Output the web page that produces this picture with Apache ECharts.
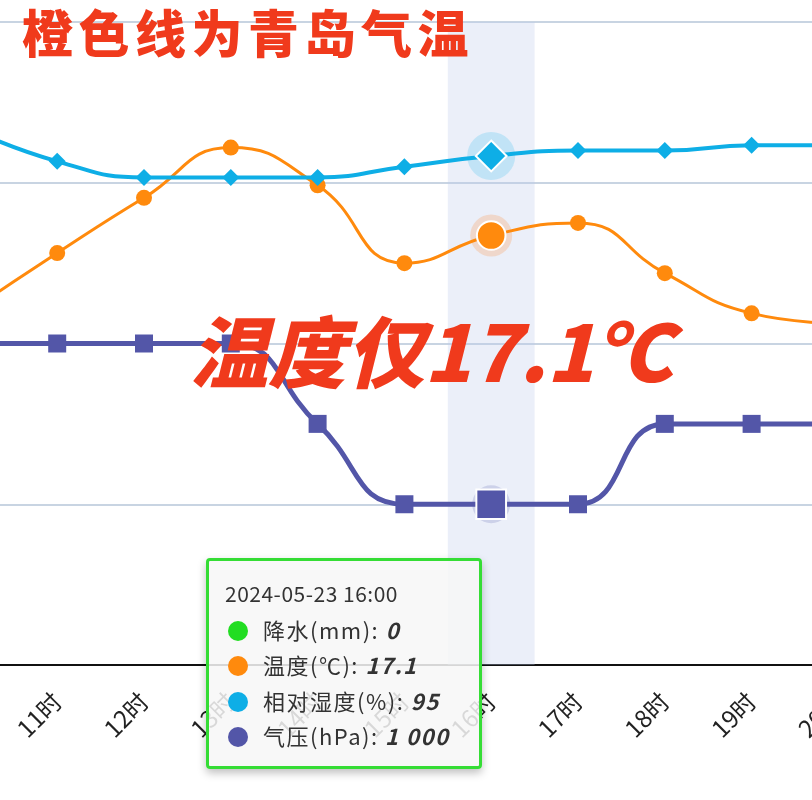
<!DOCTYPE html>
<html>
<head>
<meta charset="utf-8">
<script src="https://cdn.jsdelivr.net/npm/echarts@6/dist/echarts.min.js"></script>
<style>
html,body{margin:0;padding:0;width:812px;height:800px;overflow:hidden;background:#fff;position:relative;}
#chart{position:absolute;left:-200px;top:0;width:1200px;height:800px;}
</style>
</head>
<body>
<div id="chart"></div>
<script>
// ---- data ----
const hours = ['10时','11时','12时','13时','14时','15时','16时','17时','18时','19时','20时'];
const precipitation = [0,0,0,0,0,0,0,0,0,0,0];
const temperature = [14.1,16.4,18.6,20.6,19.1,16.0,17.1,17.6,15.6,14.0,13.6];
const humidity = [100,94,91,91,91,93,95,96,96,97,97];
const pressure = [1002,1002,1002,1002,1001,1000,1000,1000,1001,1001,1001];
const pressureTicks = [998,1000,1002,1004,1006];
const tipTime = '2024-05-23 16:00';
const focusIndex = 6;
const titleText = '橙色线为青岛气温';
const bigText = '温度仅17.1℃';
const seriesNames = ['降水(mm)','温度(℃)','相对湿度(%)','气压(hPa)'];
const colors = ['#22dd22','#ff8a0d','#0eaee6','#5356a8'];

// ---- helpers ----
const OFFSET = 200; // chart container shifted left
function focusData(arr, size){
  return arr.map((v,i)=> i===focusIndex
    ? {value:v, symbolSize:size, itemStyle:{borderColor:'#fff',borderWidth:2}}
    : v);
}
function haloData(arr){ return arr.map((v,i)=> i===focusIndex ? v : '-'); }
function fmt(v){ return String(v).replace(/\B(?=(\d{3})+(?!\d))/g,' '); }

const chart = echarts.init(document.getElementById('chart'), null, {renderer:'canvas'});

const titleGraphics = titleText.split('').map((ch,i)=>({
  type:'text', left: OFFSET + 22 + i*56.5, top: 8, z: 100,
  style:{text:ch, fontSize:51, fontWeight:900, fontFamily:'"Noto Sans CJK SC"', fill:'#f03a1c',
    shadowColor:'rgba(120,0,0,0.35)', shadowBlur:4, shadowOffsetX:1, shadowOffsetY:2}
}));

const option = {
  animation:false,
  textStyle:{fontFamily:'"Noto Sans CJK SC"'},
  grid:{left:127, top:22, width:hours.length*86.8, height:643},
  tooltip:{
    trigger:'axis', triggerOn:'none', alwaysShowContent:true, transitionDuration:0,
    axisPointer:{type:'none'},
    position:[OFFSET+206, 558],
    padding:0, borderWidth:3, borderColor:'#35dd35', borderRadius:4,
    backgroundColor:'rgba(247,247,247,0.86)',
    extraCssText:'box-shadow:0 4px 8px rgba(0,0,0,0.25);width:270px;',
    formatter:function(params){
      let h = '<div style="padding:15px 6px 12px 16px;font-family:\'Noto Sans CJK SC\';font-size:22px;color:#333;line-height:35.5px;letter-spacing:1.5px;">';
      h += '<div style="font-size:21px;letter-spacing:0.5px;">'+tipTime+'</div>';
      seriesNames.forEach((name,k)=>{
        const p = params.find(q=>q.seriesName===name);
        if(!p) return;
        const v = (typeof p.value==='object' && p.value!==null) ? p.value.value : p.value;
        h += '<div style="white-space:nowrap;"><span style="display:inline-block;width:20px;height:20px;border-radius:10px;background:'+colors[k]+';vertical-align:-2px;margin:0 15px 0 3px;"></span>'
          + name + ': <b style="font-style:italic;">' + fmt(v) + '</b></div>';
      });
      return h + '</div>';
    }
  },
  xAxis:{
    type:'category', data:hours, boundaryGap:true,
    axisLine:{lineStyle:{color:'#111', width:2}},
    axisTick:{length:22, lineStyle:{color:'#111', width:2}},
    axisLabel:{rotate:45, margin:32, fontSize:24, color:'#222', fontFamily:'"Noto Sans CJK SC"', interval:0}
  },
  yAxis:[
    {type:'value', min:pressureTicks[0], max:pressureTicks[pressureTicks.length-1], interval:2,
      axisLine:{show:false}, axisTick:{show:false}, axisLabel:{show:false},
      splitLine:{show:true, lineStyle:{color:'#c8d4e2', width:2}}},
    {type:'value', min:0, max:25.6, show:false},
    {type:'value', min:0, max:120, show:false},
    {type:'value', min:0, max:10, show:false}
  ],
  series:[
    {name:seriesNames[0], type:'bar', yAxisIndex:3, data:precipitation, itemStyle:{color:colors[0]}, z:0,
      markArea:{silent:true, itemStyle:{color:'rgba(190,203,235,0.3)'},
        data:[[{xAxis:hours[focusIndex]},{xAxis:hours[focusIndex]}]]}},
    {name:seriesNames[1], type:'line', yAxisIndex:1, smooth:true, data:focusData(temperature,26),
      symbol:'circle', symbolSize:16, showAllSymbol:true, lineStyle:{color:colors[1], width:3},
      itemStyle:{color:colors[1]}, emphasis:{disabled:true}, z:4},
    {name:seriesNames[2], type:'line', yAxisIndex:2, smooth:true, data:focusData(humidity,28),
      symbol:'diamond', symbolSize:17, showAllSymbol:true, lineStyle:{color:colors[2], width:4},
      itemStyle:{color:colors[2]}, emphasis:{disabled:true}, z:4},
    {name:seriesNames[3], type:'line', yAxisIndex:0, smooth:true, data:focusData(pressure,27),
      symbol:'rect', symbolSize:18, showAllSymbol:true, lineStyle:{color:colors[3], width:5},
      itemStyle:{color:colors[3]}, emphasis:{disabled:true}, z:4},
    {name:'halo-t', type:'scatter', yAxisIndex:1, data:haloData(temperature), symbolSize:42,
      itemStyle:{color:'rgba(245,180,135,0.5)'}, silent:true, z:1, tooltip:{show:false}},
    {name:'halo-h', type:'scatter', yAxisIndex:2, data:haloData(humidity), symbolSize:48,
      itemStyle:{color:'rgba(130,210,242,0.5)'}, silent:true, z:1, tooltip:{show:false}},
    {name:'halo-p', type:'scatter', yAxisIndex:0, data:haloData(pressure), symbolSize:38,
      itemStyle:{color:'rgba(150,155,205,0.45)'}, silent:true, z:1, tooltip:{show:false}}
  ],
  graphic: titleGraphics.concat([
    {type:'text', left: OFFSET + 190, top: 313, z:100,
     style:{text:bigText, fontSize:78, fontWeight:900, fontStyle:'italic', fontFamily:'"Noto Sans CJK SC"',
       fill:'#f03a1c', shadowColor:'rgba(120,0,0,0.35)', shadowBlur:5, shadowOffsetX:2, shadowOffsetY:3}}
  ])
};
chart.setOption(option);
chart.dispatchAction({type:'showTip', seriesIndex:1, dataIndex:focusIndex});
</script>
</body>
</html>
